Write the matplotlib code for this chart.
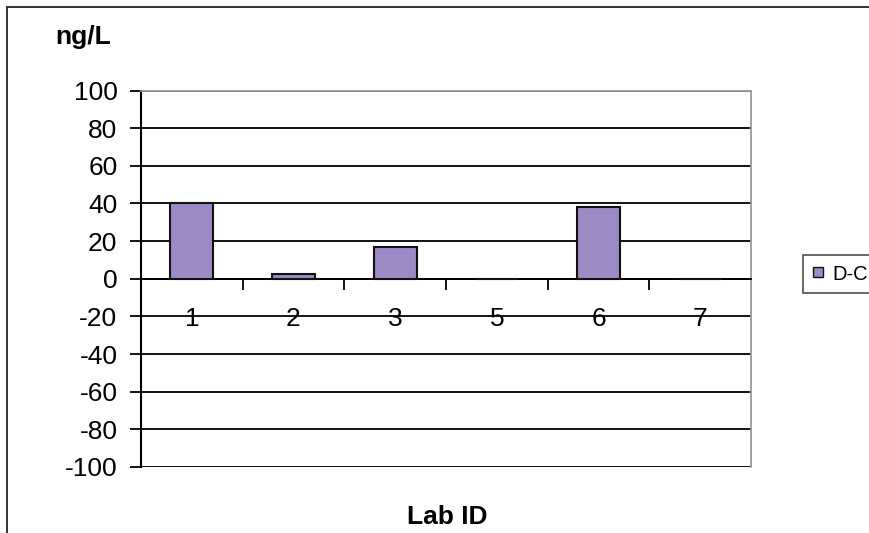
import numpy as np
import matplotlib.pyplot as plt
from matplotlib.patches import Rectangle
from matplotlib.lines import Line2D

plt.rcParams['font.family'] = ['Liberation Sans', 'DejaVu Sans']
plt.rcParams['axes.unicode_minus'] = False

# Data
lab_ids = ['1', '2', '3', '5', '6', '7']
d_minus_c = [40, 2.3, 17, 0, 38, 0]
y_ticks = list(range(-100, 101, 20))

W, H = 870, 533
fig = plt.figure(figsize=(W / 100, H / 100), dpi=100)

# outer chart frame (cut off at the right and bottom in the original)
fig.patches.append(Rectangle((7 / W, -0.1), 2.0, 1.1 - 7.5 / H, transform=fig.transFigure,
                             fill=False, edgecolor='#222222', linewidth=1.3))

ax = fig.add_axes([141 / W, 1 - 467 / H, 610 / W, (467 - 90.5) / H])

x = np.arange(len(lab_ids))
ax.bar(x, d_minus_c, width=0.42, color='#9b8ac4', edgecolor='#111111', linewidth=1.5, zorder=3)

ax.set_xlim(-0.5, len(lab_ids) - 0.5)
ax.set_ylim(-100, 100)
ax.set_yticks(y_ticks)
ax.tick_params(axis='y', direction='out', length=8, width=1.3, labelsize=19, pad=9, colors='black')

ax.set_xticks(x)
ax.set_xticklabels(lab_ids)
ax.set_xticks(np.arange(0.5, len(lab_ids) - 0.5), minor=True)
ax.tick_params(axis='x', which='major', length=0, labelsize=19, pad=20)
ax.tick_params(axis='x', which='minor', direction='out', length=8, width=1.3)

ax.yaxis.grid(True, color='black', linewidth=1.3)
ax.set_axisbelow(True)

ax.spines['bottom'].set_position(('data', 0))
ax.spines['bottom'].set_linewidth(1.3)
ax.spines['left'].set_linewidth(1.5)
ax.spines['top'].set_color('#999999')
ax.spines['right'].set_color('#999999')
ax.spines['top'].set_linewidth(1.3)
ax.spines['right'].set_linewidth(1.3)
ax.spines['top'].set_zorder(4)

fig.text(55 / W, 1 - 44 / H, 'ng/L', fontsize=19, fontweight='bold', va='baseline', ha='left')
fig.text(447 / W, 1 - 517 / H, 'Lab ID', fontsize=19, fontweight='bold', va='center', ha='center')

handle = Line2D([], [], linestyle='none', marker='s', markersize=7,
                markerfacecolor='#9b8ac4', markeredgecolor='#111111')
leg = fig.legend([handle], ['D-C'], loc='center left', bbox_to_anchor=(803 / W, 1 - 274 / H),
                 fontsize=14.5, frameon=True, fancybox=False, edgecolor='#222222',
                 handlelength=0.6, handletextpad=0.4, borderpad=0.45, borderaxespad=0)
leg.get_frame().set_linewidth(1.2)

fig.savefig('out.png', dpi=100)
